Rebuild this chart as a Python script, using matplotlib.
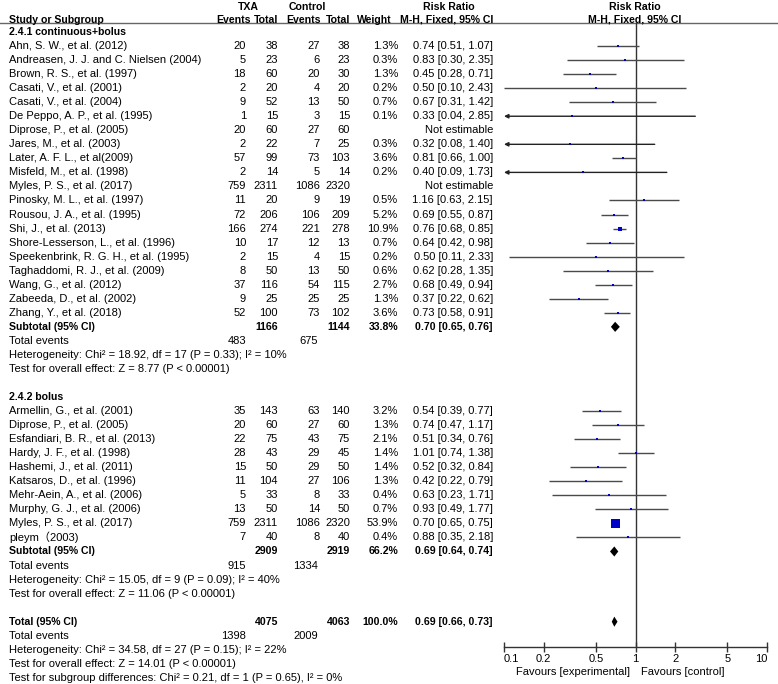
import numpy as np
import matplotlib
matplotlib.use("Agg")
import matplotlib.pyplot as plt

plt.rcParams['font.family'] = ['Liberation Sans', 'Noto Sans CJK SC']
plt.rcParams['font.size'] = 8

# ---- data: 2.4.1 continuous+bolus
names1 = ["Ahn, S. W., et al. (2012)", "Andreasen, J. J. and C. Nielsen (2004)",
          "Brown, R. S., et al. (1997)", "Casati, V., et al. (2001)", "Casati, V., et al. (2004)",
          "De Peppo, A. P., et al. (1995)", "Diprose, P., et al. (2005)", "Jares, M., et al. (2003)",
          "Later, A. F. L., et al(2009)", "Misfeld, M., et al. (1998)", "Myles, P. S., et al. (2017)",
          "Pinosky, M. L., et al. (1997)", "Rousou, J. A., et al. (1995)", "Shi, J., et al. (2013)",
          "Shore-Lesserson, L., et al. (1996)", "Speekenbrink, R. G. H., et al. (1995)",
          "Taghaddomi, R. J., et al. (2009)", "Wang, G., et al. (2012)", "Zabeeda, D., et al. (2002)",
          "Zhang, Y., et al. (2018)"]
txa_ev1 = [20, 5, 18, 2, 9, 1, 20, 2, 57, 2, 759, 11, 72, 166, 10, 2, 8, 37, 9, 52]
txa_tot1 = [38, 23, 60, 20, 52, 15, 60, 22, 99, 14, 2311, 20, 206, 274, 17, 15, 50, 116, 25, 100]
ctl_ev1 = [27, 6, 20, 4, 13, 3, 27, 7, 73, 5, 1086, 9, 106, 221, 12, 4, 13, 54, 25, 73]
ctl_tot1 = [38, 23, 30, 20, 50, 15, 60, 25, 103, 14, 2320, 19, 209, 278, 13, 15, 50, 115, 25, 102]
weight1 = [1.3, 0.3, 1.3, 0.2, 0.7, 0.1, None, 0.3, 3.6, 0.2, None, 0.5, 5.2, 10.9, 0.7, 0.2, 0.6, 2.7, 1.3, 3.6]
rr1 = [0.74, 0.83, 0.45, 0.50, 0.67, 0.33, None, 0.32, 0.81, 0.40, None, 1.16, 0.69, 0.76, 0.64, 0.50, 0.62, 0.68, 0.37, 0.73]
lo1 = [0.51, 0.30, 0.28, 0.10, 0.31, 0.04, None, 0.08, 0.66, 0.09, None, 0.63, 0.55, 0.68, 0.42, 0.11, 0.28, 0.49, 0.22, 0.58]
hi1 = [1.07, 2.35, 0.71, 2.43, 1.42, 2.85, None, 1.40, 1.00, 1.73, None, 2.15, 0.87, 0.85, 0.98, 2.33, 1.35, 0.94, 0.62, 0.91]

# ---- data: 2.4.2 bolus
names2 = ["Armellin, G., et al. (2001)", "Diprose, P., et al. (2005)", "Esfandiari, B. R., et al. (2013)",
          "Hardy, J. F., et al. (1998)", "Hashemi, J., et al. (2011)", "Katsaros, D., et al. (1996)",
          "Mehr-Aein, A., et al. (2006)", "Murphy, G. J., et al. (2006)", "Myles, P. S., et al. (2017)",
          "pleym（2003)"]
txa_ev2 = [35, 20, 22, 28, 15, 11, 5, 13, 759, 7]
txa_tot2 = [143, 60, 75, 43, 50, 104, 33, 50, 2311, 40]
ctl_ev2 = [63, 27, 43, 29, 29, 27, 8, 14, 1086, 8]
ctl_tot2 = [140, 60, 75, 45, 50, 106, 33, 50, 2320, 40]
weight2 = [3.2, 1.3, 2.1, 1.4, 1.4, 1.3, 0.4, 0.7, 53.9, 0.4]
rr2 = [0.54, 0.74, 0.51, 1.01, 0.52, 0.42, 0.63, 0.93, 0.70, 0.88]
lo2 = [0.39, 0.47, 0.34, 0.74, 0.32, 0.22, 0.23, 0.49, 0.65, 0.35]
hi2 = [0.77, 1.17, 0.76, 1.38, 0.84, 0.79, 1.71, 1.77, 0.75, 2.18]

# ---- pooled results: [tot_txa, tot_ctl, weight, rr, lo, hi, ev_txa, ev_ctl]
sub1 = [1166, 1144, 33.8, 0.70, 0.65, 0.76, 483, 675]
sub2 = [2909, 2919, 66.2, 0.69, 0.64, 0.74, 915, 1334]
total = [4075, 4063, 100.0, 0.69, 0.66, 0.73, 1398, 2009]
het1 = "Heterogeneity: Chi² = 18.92, df = 17 (P = 0.33); I² = 10%"
eff1 = "Test for overall effect: Z = 8.77 (P < 0.00001)"
het2 = "Heterogeneity: Chi² = 15.05, df = 9 (P = 0.09); I² = 40%"
eff2 = "Test for overall effect: Z = 11.06 (P < 0.00001)"
het_t = "Heterogeneity: Chi² = 34.58, df = 27 (P = 0.15); I² = 22%"
eff_t = "Test for overall effect: Z = 14.01 (P < 0.00001)"
subgrp = "Test for subgroup differences: Chi² = 0.21, df = 1 (P = 0.65), I² = 0%"

ticks = [0.1, 0.2, 0.5, 1, 2, 5, 10]
tick_labels = ["0.1", "0.2", "0.5", "1", "2", "5", "10"]

# layout (pixels)
W, H = 778, 684
ROW0, DY = 32, 14.04
X_NAME, X_EVT, X_TOTT, X_EVC, X_TOTC, X_W, X_CI = 9, 246, 278, 320, 350, 398, 493
PX_L, PX_R, PX_TOP, PX_AX = 504, 767, 23, 647
LINE_C = "#4a4a4a"
SQ_C = "#0000c8"
BOLD_FS = 7.6


def ypx(r):
    return ROW0 + DY * r


fig = plt.figure(figsize=(W / 100, H / 100), dpi=100)
tab = fig.add_axes([0, 0, 1, 1])
tab.set_xlim(0, W)
tab.set_ylim(H, 0)
tab.axis("off")

ax = fig.add_axes([PX_L / W, 1 - PX_AX / H, (PX_R - PX_L) / W, (PX_AX - PX_TOP) / H])
ax.set_xscale("log")
ax.set_xlim(0.1, 10)
ax.set_ylim((PX_AX - ROW0) / DY, (PX_TOP - ROW0) / DY)
ax.patch.set_alpha(0)
for s in ("top", "left", "right"):
    ax.spines[s].set_visible(False)
ax.spines["bottom"].set_color("#333333")
ax.spines["bottom"].set_linewidth(1)
ax.set_yticks([])
ax.minorticks_off()
ax.set_xticks(ticks)
ax.set_xticklabels(tick_labels)
ax.tick_params(axis="x", direction="inout", length=7, width=1, color="#333333", pad=1.5, labelsize=8)
labs = ax.get_xticklabels()
labs[0].set_ha("left")
labs[-1].set_ha("right")
ax.axvline(1, color="#333333", lw=1)


def t(x, r, s, ha="left", bold=False):
    if bold:
        tab.text(x, ypx(r), s, ha=ha, va="center", fontweight="bold", fontsize=BOLD_FS)
    else:
        tab.text(x, ypx(r), s, ha=ha, va="center")


# header
hdr = dict(va="center", fontweight="bold", fontsize=BOLD_FS)
tab.text(248, 7, "TXA", ha="center", **hdr)
tab.text(307, 7, "Control", ha="center", **hdr)
tab.text(449, 7, "Risk Ratio", ha="center", **hdr)
tab.text(635, 7, "Risk Ratio", ha="center", **hdr)
tab.text(X_NAME, 20, "Study or Subgroup", ha="left", **hdr)
for x, s in [(251, "Events"), (X_TOTT, "Total"), (321, "Events"), (X_TOTC, "Total"),
             (392, "Weight"), (X_CI, "M-H, Fixed, 95% CI")]:
    tab.text(x, 20, s, ha="right", **hdr)
tab.text(635, 20, "M-H, Fixed, 95% CI", ha="center", **hdr)
tab.axhline(PX_TOP, color="#666666", lw=1)


def square_size(w):
    side = max(9.0 * np.sqrt(w / 53.9), 2.0)
    return (side * 0.72) ** 2


def study_rows(start, names, ev_t, tot_t, ev_c, tot_c, wts, rr, lo, hi):
    for i in range(len(names)):
        r = start + i
        t(X_NAME, r, names[i])
        t(X_EVT, r, str(ev_t[i]), "right")
        t(X_TOTT, r, str(tot_t[i]), "right")
        t(X_EVC, r, str(ev_c[i]), "right")
        t(X_TOTC, r, str(tot_c[i]), "right")
        if rr[i] is None:
            t(X_CI, r, "Not estimable", "right")
            continue
        t(X_W, r, f"{wts[i]:.1f}%", "right")
        t(X_CI, r, f"{rr[i]:.2f} [{lo[i]:.2f}, {hi[i]:.2f}]", "right")
        if lo[i] < 0.1:
            ax.annotate("", xy=(0.1, r), xytext=(hi[i], r),
                        arrowprops=dict(arrowstyle="-|>", color="#222222", lw=1,
                                        mutation_scale=6, shrinkA=0, shrinkB=0))
        else:
            ax.plot([lo[i], hi[i]], [r, r], color=LINE_C, lw=1, solid_capstyle="butt")
        ax.scatter([rr[i]], [r], marker="s", s=square_size(wts[i]), color=SQ_C,
                   linewidths=0, zorder=3)


def pooled(r, vals, title, het, eff):
    t(X_NAME, r, title, bold=True)
    t(X_TOTT, r, str(vals[0]), "right", True)
    t(X_TOTC, r, str(vals[1]), "right", True)
    t(X_W, r, f"{vals[2]:.1f}%", "right", True)
    t(X_CI, r, f"{vals[3]:.2f} [{vals[4]:.2f}, {vals[5]:.2f}]", "right", True)
    t(X_NAME, r + 1, "Total events")
    t(X_EVT, r + 1, str(vals[6]), "right")
    t(318, r + 1, str(vals[7]), "right")
    t(X_NAME, r + 2, het)
    t(X_NAME, r + 3, eff)
    h = 0.36
    ax.fill([vals[4], vals[3], vals[5], vals[3]], [r, r - h, r, r + h],
            color="black", lw=0, zorder=3)


t(X_NAME, 0, "2.4.1 continuous+bolus", bold=True)
study_rows(1, names1, txa_ev1, txa_tot1, ctl_ev1, ctl_tot1, weight1, rr1, lo1, hi1)
pooled(21, sub1, "Subtotal (95% CI)", het1, eff1)

t(X_NAME, 26, "2.4.2 bolus", bold=True)
study_rows(27, names2, txa_ev2, txa_tot2, ctl_ev2, ctl_tot2, weight2, rr2, lo2, hi2)
pooled(37, sub2, "Subtotal (95% CI)", het2, eff2)

pooled(42, total, "Total (95% CI)", het_t, eff_t)
t(X_NAME, 46, subgrp)

tab.text(630, 672, "Favours [experimental]", ha="right", va="center")
tab.text(641, 672, "Favours [control]", ha="left", va="center")

fig.savefig("out.png", dpi=100)
